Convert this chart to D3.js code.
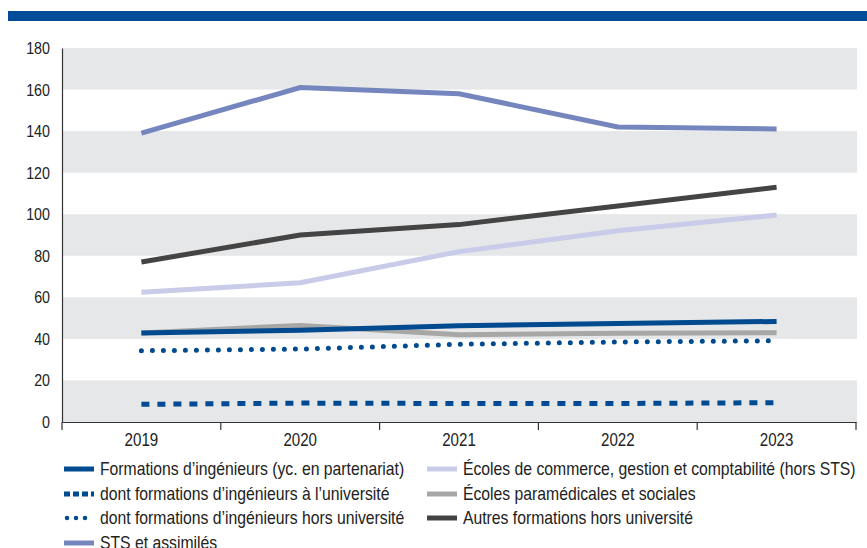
<!DOCTYPE html>
<html><head><meta charset="utf-8">
<script src="https://cdn.jsdelivr.net/npm/d3@7"></script>
<style>
body{margin:0;background:#fff;}
text{font-family:"Liberation Sans",Arial,sans-serif;fill:#222;}
</style></head>
<body><svg id="c" width="867" height="548"></svg>
<script>
const years = ["2019","2020","2021","2022","2023"];
const yTicks = [0,20,40,60,80,100,120,140,160,180];
const ingenieurs = [42.8,44.2,46.3,47.4,48.4];
const ingUniv = [8.5,9.1,8.9,8.9,9.3];
const ingHorsUniv = [34.3,35.1,37.4,38.5,39.1];
const sts = [139,161,158,142,141];
const commerce = [62.5,67,82,92,99.6];
const paramedical = [42.8,46.5,42,42.7,43];
const autres = [77,90,95,104,113];

const seriesNames = {
  ing: "Formations d\u2019ingénieurs (yc. en partenariat)",
  univ: "dont formations d\u2019ingénieurs à l\u2019université",
  hors: "dont formations d\u2019ingénieurs hors université",
  sts: "STS et assimilés",
  com: "Écoles de commerce, gestion et comptabilité (hors STS)",
  para: "Écoles paramédicales et sociales",
  aut: "Autres formations hors université"
};

const series = [
  {key:"para", values:paramedical, color:"#a7a7a6", style:"solid"},
  {key:"sts", values:sts, color:"#7586bf", style:"solid"},
  {key:"com", values:commerce, color:"#c9cce8", style:"solid"},
  {key:"aut", values:autres, color:"#444444", style:"solid"},
  {key:"ing", values:ingenieurs, color:"#004a8f", style:"solid"},
  {key:"univ", values:ingUniv, color:"#004a8f", style:"dash"},
  {key:"hors", values:ingHorsUniv, color:"#004a8f", style:"dot"}
];

const SX = 0.84;
const LSX = 0.9;
const svg = d3.select("#c");
svg.append("rect").attr("x",8).attr("y",11).attr("width",859).attr("height",10).attr("fill","#004c99");

const x = d3.scaleBand().domain(years).range([62,856]);
const y = d3.scaleLinear().domain([0,180]).range([422,48]);

// bands
const bandStarts = [0,40,80,120,160];
svg.append("g").selectAll("rect").data(bandStarts).join("rect")
  .attr("x",62).attr("width",857-62)
  .attr("y",d=>y(d+20)).attr("height",d=>y(d)-y(d+20))
  .attr("fill","#e6e7e9");

// y axis
const yAxis = svg.append("g").attr("transform","translate(62,0)")
  .call(d3.axisLeft(y).tickValues(yTicks).tickSize(0).tickPadding(12));
yAxis.select(".domain").attr("stroke","#333").attr("stroke-width",1.2);
yAxis.selectAll("text").attr("font-size",17).attr("fill","#222")
  .attr("x",-12/SX).attr("transform",`scale(${SX},1)`)
  .style("font-family",'"Liberation Sans",Arial,sans-serif');

// x axis
const xAxis = svg.append("g").attr("transform","translate(0,422)")
  .call(d3.axisBottom(x).tickSize(0).tickPadding(11));
xAxis.select(".domain").attr("stroke","#333").attr("stroke-width",1.2);
xAxis.selectAll("text").attr("font-size",18).attr("fill","#222")
  .attr("transform",`scale(${SX},1)`)
  .style("font-family",'"Liberation Sans",Arial,sans-serif');
const bounds = years.map(d=>x(d)).concat([x(years[years.length-1])+x.bandwidth()]);
svg.append("g").selectAll("line").data(bounds).join("line")
  .attr("x1",d=>d).attr("x2",d=>d).attr("y1",422).attr("y2",430)
  .attr("stroke","#333").attr("stroke-width",1.2);

const line = d3.line().x((d,i)=>x(years[i])+x.bandwidth()/2).y(d=>y(d));

function styleLine(sel, s){
  sel.attr("fill","none").attr("stroke",s.color);
  if(s.style==="solid"){ sel.attr("stroke-width",5); }
  else if(s.style==="dash"){ sel.attr("stroke-width",5).attr("stroke-dasharray","8,8"); }
  else { sel.attr("stroke-width",5).attr("stroke-dasharray","0,11").attr("stroke-linecap","round"); }
}

const lg = svg.append("g");
series.forEach(s=>{
  const p = lg.append("path").attr("d", line(s.values));
  styleLine(p, s);
});

// legend
const legendItems = [
  {key:"ing", col:0, row:0},
  {key:"univ", col:0, row:1},
  {key:"hors", col:0, row:2},
  {key:"sts", col:0, row:3},
  {key:"com", col:1, row:0},
  {key:"para", col:1, row:1},
  {key:"aut", col:1, row:2}
];
const colX = [64, 427];
const rowY = [469, 494, 518, 543];
const leg = svg.append("g");
legendItems.forEach(it=>{
  const s = series.find(d=>d.key===it.key);
  const g = leg.append("g").attr("transform",`translate(${colX[it.col]},${rowY[it.row]})`);
  const l = g.append("line").attr("x1", s.style==="dot"?3:0).attr("x2",30).attr("y1",0).attr("y2",0);
  styleLine(l, s);
  if(s.style==="dash") l.attr("stroke-dasharray","6,3");
  if(s.style==="dot") l.attr("stroke-dasharray","0,9").attr("stroke-width",4.5);
  g.append("text").attr("x",36/LSX).attr("y",0).attr("dy","0.36em").attr("font-size",17.5)
    .attr("transform",`scale(${LSX},1)`).text(seriesNames[it.key]);
});
</script></body></html>
